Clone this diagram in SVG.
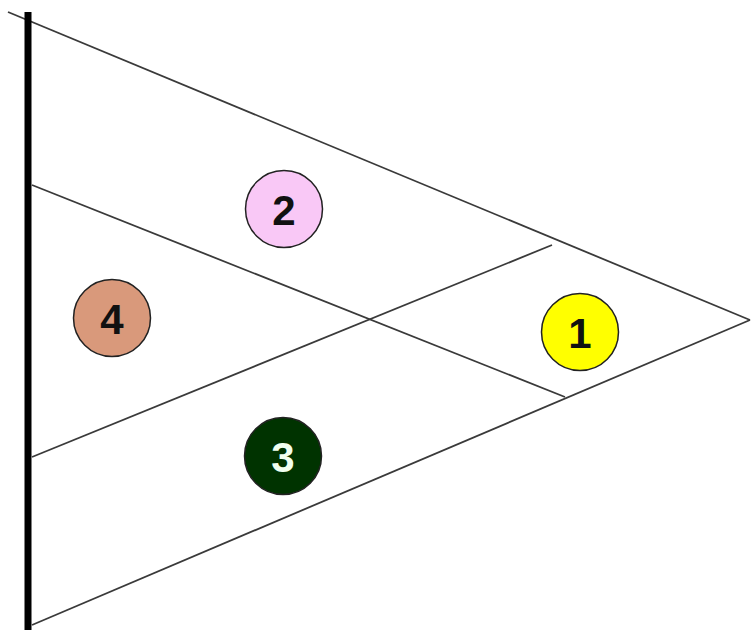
<svg xmlns="http://www.w3.org/2000/svg" width="752" height="630" viewBox="0 0 752 630">
<style>
.ln{stroke:#3a3a3a;stroke-width:1.8;fill:none}
.nc{stroke:#222;stroke-width:1.5}
.lb{font-family:"Liberation Sans",Arial,sans-serif;font-weight:bold;font-size:42px;text-anchor:middle;dominant-baseline:central}
</style>
<rect width="752" height="630" fill="#fff"/>
<g id="connectors">
<line class="ln" x1="8" y1="12" x2="750" y2="320"/>
<line class="ln" x1="32" y1="625" x2="750" y2="320"/>
<line class="ln" x1="32" y1="185" x2="565" y2="397"/>
<line class="ln" x1="32" y1="457" x2="552" y2="245"/>
<line x1="28" y1="12" x2="28" y2="630" stroke="#000" stroke-width="7"/>
</g>
<g id="node2"><circle class="nc" cx="284" cy="209" r="38.5" fill="#f9c8f6"/><text class="lb" x="284" y="210" fill="#111">2</text></g>
<g id="node4"><circle class="nc" cx="112" cy="318" r="38.5" fill="#d9997b"/><text class="lb" x="112" y="319" fill="#111">4</text></g>
<g id="node1"><circle class="nc" cx="580" cy="332" r="38.5" fill="#ffff00"/><text class="lb" x="580" y="333" fill="#111">1</text></g>
<g id="node3"><circle class="nc" cx="283" cy="456" r="38.5" fill="#003300"/><text class="lb" x="283" y="457" fill="#f0fff0">3</text></g>
</svg>
